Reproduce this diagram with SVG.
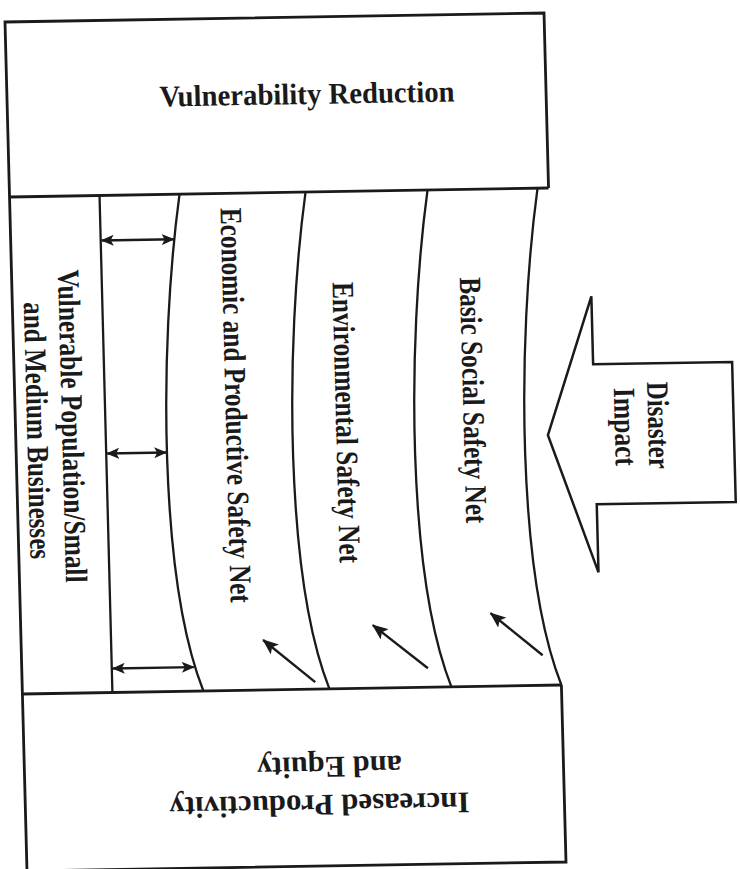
<svg xmlns="http://www.w3.org/2000/svg" width="740" height="869" viewBox="0 0 740 869">
  <defs>
    <marker id="head" viewBox="0 0 13 11" refX="12" refY="5.5" markerWidth="13" markerHeight="11" markerUnits="userSpaceOnUse" orient="auto-start-reverse">
      <path d="M0,0 L13,5.5 L0,11 L3,5.5 z" fill="#1a1a1a"/>
    </marker>
    <marker id="head-lg" viewBox="0 0 16 13" refX="15" refY="6.5" markerWidth="16" markerHeight="13" markerUnits="userSpaceOnUse" orient="auto">
      <path d="M0,0 L16,6.5 L0,13 L3.5,6.5 z" fill="#1a1a1a"/>
    </marker>
    <path id="net-curve" d="M170,175 C145,330 140,560 181,672"/>
  </defs>
  <style>
    .frame { fill: none; stroke: #1a1a1a; stroke-width: 2.8; stroke-linejoin: miter; }
    .line { fill: none; stroke: #1a1a1a; stroke-width: 2.3; }
    .arrow { fill: none; stroke: #1a1a1a; stroke-width: 2.4; }
    .block { fill: #ffffff; stroke: #1a1a1a; stroke-width: 2.5; stroke-linejoin: miter; }
    text { font-family: "Liberation Serif", "Times New Roman", serif; font-weight: bold; fill: #1a1a1a; }
    .title { font-size: 30px; }
    .label { font-size: 31px; }
  </style>
  <rect width="740" height="869" fill="#ffffff"/>

  <!-- whole figure sits slightly tilted on the page -->
  <g transform="matrix(1,-0.0167,0.0259,1,5,22)">

    <g id="vulnerability-reduction">
      <path class="frame" d="M0,175 L0,0 L539,0 L539,175"/>
      <text class="title" x="300" y="87" text-anchor="middle" textLength="295" lengthAdjust="spacingAndGlyphs">Vulnerability Reduction</text>
    </g>

    <g id="safety-frame">
      <path class="frame" d="M0,175 L539,175"/>
      <path class="frame" d="M0,672 L539,672"/>
      <path class="frame" d="M0,175 L0,672"/>
    </g>

    <g id="vulnerable-population">
      <path class="line" d="M90,175 L90,672"/>
      <text class="label" transform="translate(46.5,405) rotate(90)" text-anchor="middle" textLength="313" lengthAdjust="spacingAndGlyphs">Vulnerable Population/Small</text>
      <text class="label" transform="translate(11.5,409) rotate(90)" text-anchor="middle" textLength="257" lengthAdjust="spacingAndGlyphs">and Medium Businesses</text>
    </g>

    <g id="economic-productive-net">
      <use href="#net-curve" class="line"/>
      <text class="label" transform="translate(210.5,387) rotate(90)" text-anchor="middle" textLength="395" lengthAdjust="spacingAndGlyphs">Economic and Productive Safety Net</text>
    </g>

    <g id="environmental-net">
      <use href="#net-curve" class="line" transform="translate(126,0)"/>
      <text class="label" transform="translate(320.5,406) rotate(90)" text-anchor="middle" textLength="281" lengthAdjust="spacingAndGlyphs">Environmental Safety Net</text>
    </g>

    <g id="basic-social-net">
      <use href="#net-curve" class="line" transform="translate(248,0)"/>
      <use href="#net-curve" class="line" transform="translate(358,0)"/>
      <text class="label" transform="translate(448,386) rotate(90)" text-anchor="middle" textLength="246" lengthAdjust="spacingAndGlyphs">Basic Social Safety Net</text>
    </g>

    <g id="increased-productivity">
      <path class="frame" d="M0,672 L0,849 L539,849 L539,672"/>
      <text class="title" transform="rotate(180,294,778)" x="294" y="778" text-anchor="middle" textLength="300" lengthAdjust="spacingAndGlyphs">Increased Productivity</text>
      <text class="title" transform="rotate(180,305,740)" x="305" y="740" text-anchor="middle" textLength="145" lengthAdjust="spacingAndGlyphs">and Equity</text>
    </g>

    <g id="disaster-impact">
      <polygon class="block" points="532,422 579,284 579,352 718,352 718,492 579,492 579,560"/>
      <text class="label" transform="translate(632.5,414) rotate(90)" text-anchor="middle" textLength="87" lengthAdjust="spacingAndGlyphs">Disaster</text>
      <text class="label" transform="translate(599,415) rotate(90)" text-anchor="middle" textLength="78" lengthAdjust="spacingAndGlyphs">Impact</text>
    </g>

    <g id="connectors">
      <line class="arrow" x1="91" y1="220" x2="163" y2="220" marker-start="url(#head)" marker-end="url(#head)"/>
      <line class="arrow" x1="91" y1="433" x2="150" y2="433" marker-start="url(#head)" marker-end="url(#head)"/>
      <line class="arrow" x1="91" y1="648" x2="172" y2="648" marker-start="url(#head)" marker-end="url(#head)"/>
      <line class="arrow" x1="293" y1="665" x2="242" y2="622" marker-end="url(#head-lg)"/>
      <line class="arrow" x1="406" y1="653" x2="352" y2="609" marker-end="url(#head-lg)"/>
      <line class="arrow" x1="521" y1="642" x2="470" y2="599" marker-end="url(#head-lg)"/>
    </g>
  </g>
</svg>
